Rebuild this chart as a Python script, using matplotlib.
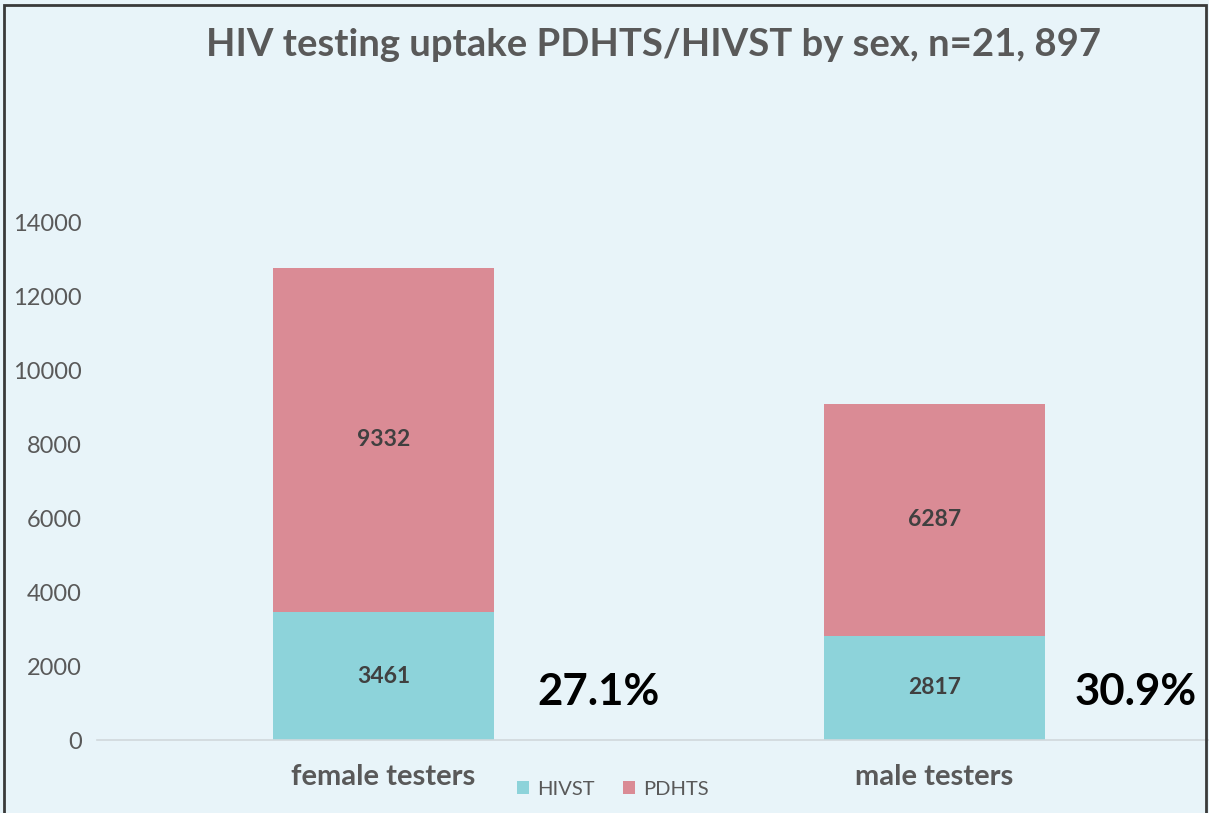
import matplotlib.pyplot as plt
from matplotlib.patches import Rectangle

# data
categories = ['female testers', 'male testers']
hivst = [3461, 2817]
pdhts = [9332, 6287]
series_names = ['HIVST', 'PDHTS']

bg = '#e8f4f9'
c_hivst = '#8dd3da'
c_pdhts = '#da8b95'
grey = '#595959'

plt.rcParams['font.family'] = ['Lato', 'DejaVu Sans']

W, H = 1209, 813
fig = plt.figure(figsize=(W / 100, H / 100), dpi=100, facecolor=bg)
ax = fig.add_axes([108 / W, 1 - 740 / H, 1102 / W, (740 - 223) / H])
ax.set_facecolor(bg)

x = list(range(len(categories)))
b1 = ax.bar(x, hivst, width=0.4, color=c_hivst, label=series_names[0])
b2 = ax.bar(x, pdhts, width=0.4, bottom=hivst, color=c_pdhts, label=series_names[1])

for i in x:
    ax.text(i, hivst[i] / 2, str(hivst[i]), ha='center', va='center',
            fontsize=16.5, fontweight='bold', color='#404040')
    ax.text(i, hivst[i] + pdhts[i] / 2, str(pdhts[i]), ha='center', va='center',
            fontsize=16.5, fontweight='bold', color='#404040')

# share of HIVST among all testers, shown to the right of each bar
pct_offset = [0.39, 0.365]
for i in x:
    share = 100 * hivst[i] / (hivst[i] + pdhts[i])
    ax.text(i + pct_offset[i], 1300, f'{share:.1f}%', ha='center', va='center',
            fontsize=31.5, fontweight='bold', color='black')

ax.set_xlim(-0.5, 1.5)
ax.set_ylim(0, 14000)
ax.set_yticks(range(0, 14001, 2000))
ax.set_xticks(x)
ax.set_xticklabels(categories, fontsize=21, fontweight='bold', color=grey)
ax.tick_params(axis='y', length=0, pad=19, labelsize=17, labelcolor=grey)
ax.tick_params(axis='x', length=0, pad=17)
for s in ['top', 'right', 'left']:
    ax.spines[s].set_visible(False)
ax.spines['bottom'].set_visible(False)
ax.axhline(0, xmin=-0.01, xmax=1, color='#d0d8dc', linewidth=1.2, clip_on=False)

fig.text(654 / W, 1 - 45 / H, 'HIV testing uptake PDHTS/HIVST by sex, n=21, 897',
         ha='center', va='center', fontsize=27.5, fontweight='bold', color=grey)

fig.legend(handles=[b1, b2], loc='center', bbox_to_anchor=(613 / W, 1 - 789 / H),
           ncol=2, frameon=False, fontsize=14.5, labelcolor=grey,
           handlelength=0.6, handleheight=0.6, columnspacing=1.4, handletextpad=0.4)

# frame around the picture
fig.patches.append(Rectangle((4 / W, -0.01), 1 - 7 / W, 1 - 5 / H + 0.01,
                             transform=fig.transFigure, fill=False,
                             edgecolor='#3a3a3a', linewidth=2))

fig.savefig('out.png', dpi=100, facecolor=bg)
